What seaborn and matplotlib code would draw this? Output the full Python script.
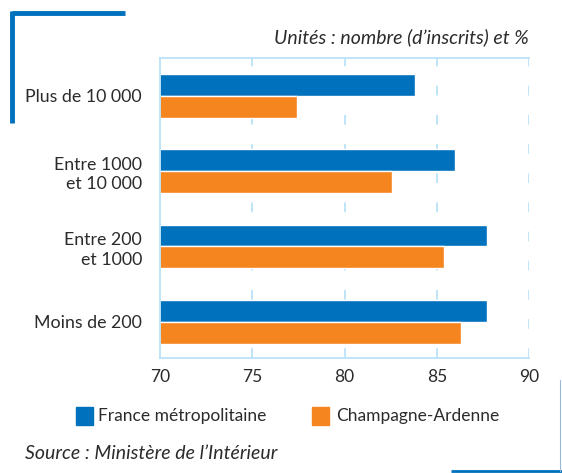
import matplotlib
matplotlib.use('Agg')
import matplotlib.pyplot as plt
import seaborn as sns
import pandas as pd
from matplotlib.lines import Line2D
from matplotlib.patches import Rectangle

categories = ['Plus de 10 000', 'Entre 1000\net 10 000', 'Entre 200\net 1000', 'Moins de 200']
france = [83.8, 86.0, 87.7, 87.7]
champagne = [77.4, 82.6, 85.4, 86.3]
series = ['France métropolitaine', 'Champagne-Ardenne']
x_ticks = [70, 75, 80, 85, 90]

BLUE = '#0071bc'
ORANGE = '#f5851f'
GRID = '#bfe4f8'
TEXT = '#2b2b2b'

df = pd.DataFrame({
    'cat': categories * 2,
    'val': france + champagne,
    'serie': [series[0]] * 4 + [series[1]] * 4,
})

sns.set_style('white')
plt.rcParams['font.family'] = ['Lato', 'DejaVu Sans']

fig = plt.figure(figsize=(5.62, 4.73), dpi=100)
ax = fig.add_axes([0.2847, 0.2431, 0.6566, 0.6343])
sns.barplot(data=df, y='cat', x='val', hue='serie', orient='h',
            palette=[BLUE, ORANGE], width=0.58, saturation=1,
            legend=False, ax=ax)

ax.set_xlim(70, 90)
ax.set_ylim(3.48, -0.5)
ax.set_xticks(x_ticks)
ax.set_xlabel('')
ax.set_ylabel('')
ax.tick_params(axis='x', length=0, labelsize=12.5, colors=TEXT, pad=8)
ax.tick_params(axis='y', length=0, labelsize=12.8, colors=TEXT, pad=13)
for lab in ax.get_yticklabels():
    lab.set_horizontalalignment('right')
    lab.set_multialignment('right')
    lab.set_linespacing(1.3)

for v in x_ticks[1:]:
    ax.axvline(v, color=GRID, lw=1.4, ls=(0, (5, 10)), zorder=0)
for side in ['left', 'top', 'bottom']:
    ax.spines[side].set_color(GRID)
    ax.spines[side].set_linewidth(1.4)
ax.spines['right'].set_visible(False)

fig.text(529 / 562, 1 - 37 / 473, 'Unités : nombre (d\u2019inscrits) et %', ha='right', va='center',
         fontsize=14, style='italic', color=TEXT)

# legende
fig.patches.append(Rectangle((76 / 562, 1 - 425 / 473), 17 / 562, 18 / 473,
                             transform=fig.transFigure, color=BLUE))
fig.text(98 / 562, 1 - 416 / 473, series[0], ha='left', va='center', fontsize=12.5, color=TEXT)
fig.patches.append(Rectangle((312 / 562, 1 - 425 / 473), 17 / 562, 18 / 473,
                             transform=fig.transFigure, color=ORANGE))
fig.text(336 / 562, 1 - 416 / 473, series[1], ha='left', va='center', fontsize=12.5, color=TEXT)

fig.text(25 / 562, 1 - 453 / 473, 'Source : Ministère de l\u2019Intérieur', ha='left', va='center',
         fontsize=14, style='italic', color=TEXT)

# cadres decoratifs
fig.add_artist(Line2D([12 / 562, 125 / 562], [1 - 13 / 473, 1 - 13 / 473],
                      transform=fig.transFigure, color=BLUE, lw=3.5, solid_capstyle='butt'))
fig.add_artist(Line2D([12 / 562, 12 / 562], [1 - 11 / 473, 1 - 123 / 473],
                      transform=fig.transFigure, color=BLUE, lw=3.5, solid_capstyle='butt'))
fig.add_artist(Line2D([451 / 562, 1], [1 - 471 / 473, 1 - 471 / 473],
                      transform=fig.transFigure, color=BLUE, lw=2, solid_capstyle='butt'))
fig.add_artist(Line2D([560 / 562, 560 / 562], [1 - 471 / 473, 1 - 380 / 473],
                      transform=fig.transFigure, color='#9ab8d8', lw=0.8))

fig.savefig('out.png', dpi=100)
